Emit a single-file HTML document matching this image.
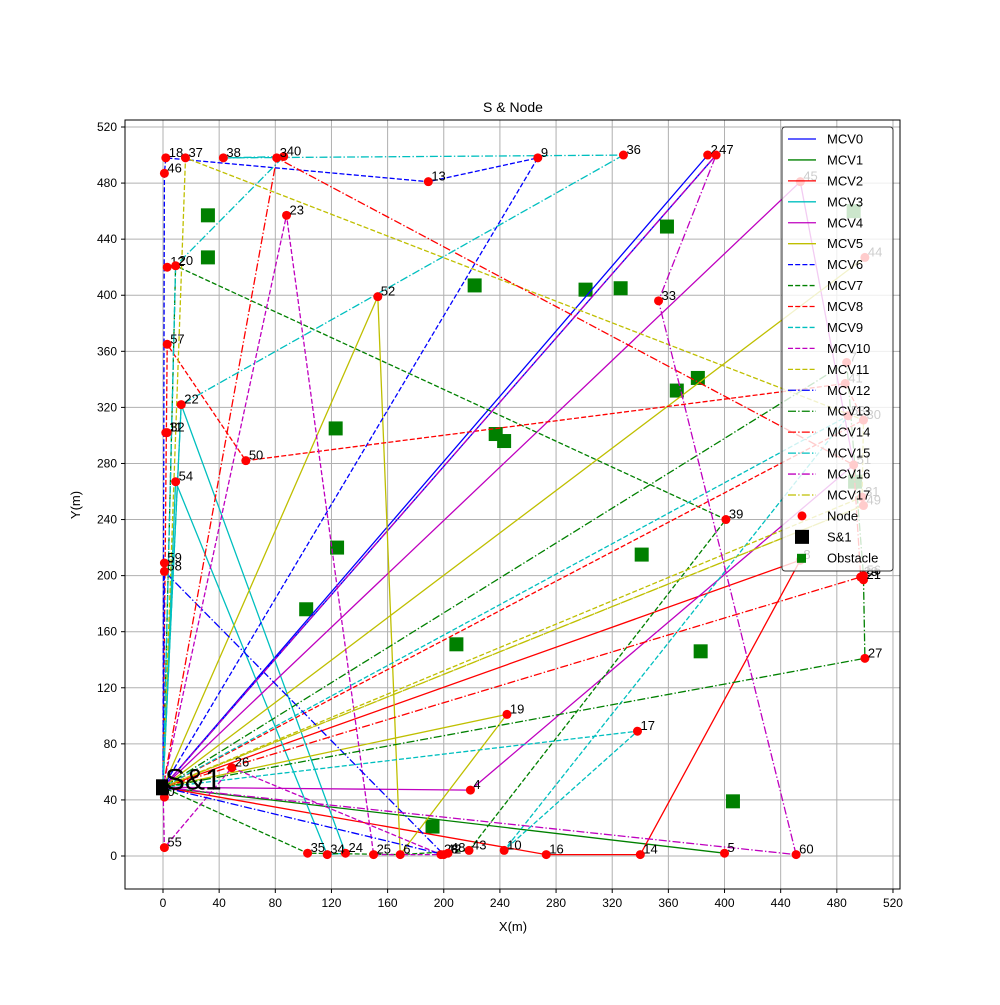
<!DOCTYPE html>
<html><head><meta charset="utf-8"><style>
html,body{margin:0;padding:0;background:#fff;}
svg text{font-family:"Liberation Sans","DejaVu Sans",sans-serif;}
</style></head><body>
<svg id="chart" width="1000" height="1000" viewBox="0 0 1000 1000" xmlns="http://www.w3.org/2000/svg">
<rect x="0" y="0" width="1000" height="1000" fill="#fff"/>
<text x="513" y="112" font-size="14" text-anchor="middle">S &amp; Node</text>
<text x="513" y="931" font-size="13" text-anchor="middle">X(m)</text>
<text x="80" y="505" font-size="13" text-anchor="middle" transform="rotate(-90 80 505)">Y(m)</text>
<g id="grid"></g>
<g id="ticks"></g>
<g id="obstacles"></g>
<g id="routes"></g>
<g id="nodes"></g>
<g id="depot"></g>
<rect x="125" y="120" width="775" height="769" fill="none" stroke="#000" stroke-width="1"/>
<g id="legend"></g>
</svg>
<script>
const xTicks=[0,40,80,120,160,200,240,280,320,360,400,440,480,520];
const yTicks=[0,40,80,120,160,200,240,280,320,360,400,440,480,520];
const nodeIds=[0,2,47,4,5,6,7,8,9,10,11,12,13,14,16,17,18,19,20,21,22,23,24,25,26,27,28,29,30,31,32,33,34,35,36,37,38,39,40,3,41,42,43,44,45,46,48,49,50,51,52,53,54,55,56,57,58,59,60];
const nodeX=[1,388,394,219,400,169,487,454,267,243,2,3,189,340,273,338,2,245,9,499,13,88,130,150,49,500,198,497,499,498,3,353,117,103,328,16,43,401,86,81,486,200,218,500,454,1,203,499,59,492,153,488,9,1,499,3,1,1,451];
const nodeY=[42,500,500,47,2,1,352,211,498,4,302,420,481,1,1,89,498,101,421,197,322,457,2,1,63,141,1,199,311,256,302,396,1,2,500,498,498,240,499,498,337,1,4,427,481,487,2,250,282,279,399,314,267,6,200,365,203,209,1];
const depotX=[0], depotY=[49];
const obstacleX=[32,32,222,301,326,359,381,366,237,243,123,124,102,209,341,383,406,192,492,493];
const obstacleY=[457,427,407,404,405,449,341,332,301,296,305,220,176,151,215,146,39,21,460,267];
const routeNames=["MCV0","MCV1","MCV2","MCV3","MCV4","MCV5","MCV6","MCV7","MCV8","MCV9","MCV10","MCV11","MCV12","MCV13","MCV14","MCV15","MCV16","MCV17"];
const routes=[
["D",2,47,"D"],["D",5,"D"],["D",16,14,8,"D"],["D",22,24,34,54,"D"],["D",45,51,4,"D"],
["D",52,6,19,"D",44,"D"],["D",9,13,18,46,"D"],["D",20,39,43,6,35,"D"],["D",57,50,41,30,"D"],
["D",17,10,53,"D"],["D",23,25,28,26,55,"D"],["D",37,30,31,"D"],["D",59,58,42,"D"],
["D",7,56,21,27,"D"],["D",3,51,29,"D"],["D",22,36,38,40,20,"D"],["D",47,33,60,"D"],["D",49,"D"]];
const colors=["#0000ff","#008000","#ff0000","#00bfbf","#bf00bf","#bfbf00"];
const dashes=["","5,2.2","8,2.2,1.4,2.2"];

const NS="http://www.w3.org/2000/svg";
const X0=163,XS=1.4038,Y0=856,YS=1.4019;
function sx(v){return X0+v*XS;}
function sy(v){return Y0-v*YS;}
function mk(tag,attrs,parent){const e=document.createElementNS(NS,tag);for(const k in attrs)e.setAttribute(k,attrs[k]);parent.appendChild(e);return e;}
const G=id=>document.getElementById(id);

xTicks.forEach(t=>{
  const gl=mk("line",{x1:sx(t),x2:sx(t),y1:120,y2:889,stroke:"#b0b0b0","stroke-width":1},G("grid"));
  
  
  const tk=mk("line",{x1:sx(t),x2:sx(t),y1:889,y2:893,stroke:"#000"},G("ticks"));
  
  
  const tl=mk("text",{x:sx(t),y:907,"font-size":12,"text-anchor":"middle"},G("ticks"));
  tl.textContent=t;
  
  
});
yTicks.forEach(t=>{
  const gl=mk("line",{x1:125,x2:900,y1:sy(t),y2:sy(t),stroke:"#b0b0b0","stroke-width":1},G("grid"));
  
  
  const tk=mk("line",{x1:121,x2:125,y1:sy(t),y2:sy(t),stroke:"#000"},G("ticks"));
  
  
  const tl=mk("text",{x:117,y:sy(t)+4,"font-size":12,"text-anchor":"end"},G("ticks"));
  tl.textContent=t;
  
  
});
obstacleX.forEach((v,i)=>{
  const r=mk("rect",{x:sx(v)-7,y:sy(obstacleY[i])-7,width:14,height:14,fill:"#008000"},G("obstacles"));
  
  
});
function pt(id){if(id==="D")return [sx(depotX[0]),sy(depotY[0])];const i=nodeIds.indexOf(id);return [sx(nodeX[i]),sy(nodeY[i])];}
routes.forEach((r,k)=>{
  const pts=r.map(pt).map(p=>p[0].toFixed(1)+","+p[1].toFixed(1)).join(" ");
  const a={points:pts,fill:"none",stroke:colors[k%6],"stroke-width":1.3};
  const d=dashes[Math.floor(k/6)];if(d)a["stroke-dasharray"]=d;
  const pl=mk("polyline",a,G("routes"));
  
  
});
nodeIds.forEach((id,i)=>{
  const c=mk("circle",{cx:sx(nodeX[i]),cy:sy(nodeY[i]),r:4.5,fill:"#ff0000"},G("nodes"));
  
  
  const t=mk("text",{x:sx(nodeX[i])+3,y:sy(nodeY[i])-1,"font-size":13},G("nodes"));
  t.textContent=id;
  
  
});
const dq=mk("rect",{x:sx(depotX[0])-7,y:sy(depotY[0])-8,width:12,height:16,fill:"#000"},G("depot"));


const dt=mk("text",{x:sx(depotX[0])+2,y:sy(depotY[0])+2,"font-size":30},G("depot"));
dt.textContent="S&1";



// legend
const L=G("legend");
const lb=mk("rect",{x:782,y:127,width:111,height:444,rx:3,fill:"#fff","fill-opacity":0.8,stroke:"#333","stroke-width":1},L);


routeNames.forEach((n,k)=>{
  const y=139+k*20.94;
  const a={x1:788,x2:816,y1:y,y2:y,stroke:colors[k%6],"stroke-width":1.3};
  const d=dashes[Math.floor(k/6)];if(d)a["stroke-dasharray"]=d;
  const ln=mk("line",a,L);
  
  
  const t=mk("text",{x:827,y:y+4.5,"font-size":13},L);
  t.textContent=n;
  
  
});
let ly=139+18*20.94;
const lc=mk("circle",{cx:802,cy:ly,r:4.5,fill:"#ff0000"},L);


const lt1=mk("text",{x:827,y:ly+4.5,"font-size":13},L);lt1.textContent="Node";


ly+=20.94;
const ls=mk("rect",{x:795,y:ly-7,width:14,height:14,fill:"#000"},L);


const lt2=mk("text",{x:827,y:ly+4.5,"font-size":13},L);lt2.textContent="S&1";


ly+=20.94;
const lo=mk("rect",{x:797,y:ly-4,width:9,height:9,fill:"#008000"},L);


const lt3=mk("text",{x:827,y:ly+4.5,"font-size":13},L);lt3.textContent="Obstacle";


</script>
</body></html>
